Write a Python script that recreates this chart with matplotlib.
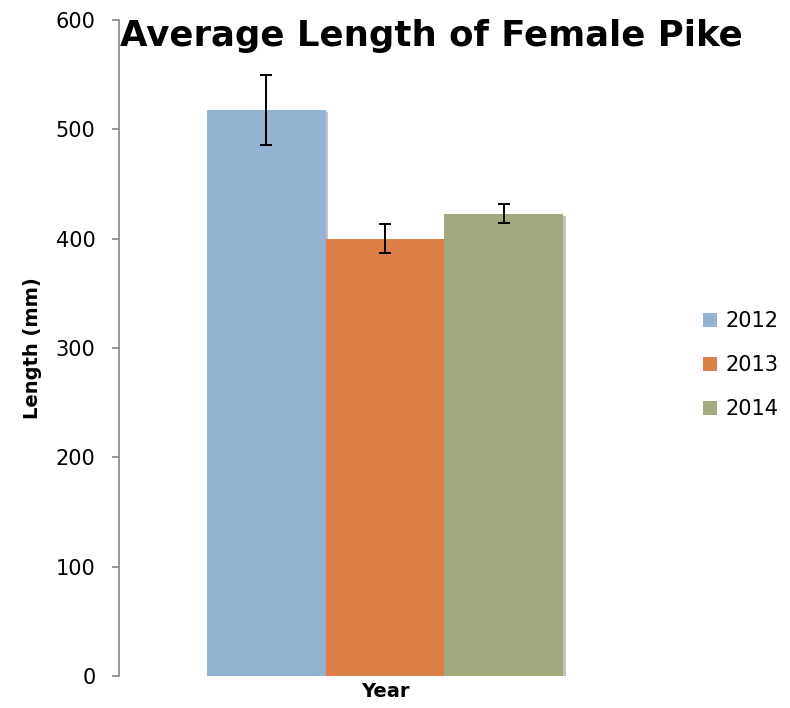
import matplotlib
matplotlib.use("Agg")
import matplotlib.pyplot as plt
import matplotlib.patheffects as pe
from matplotlib.patches import Patch

years = ["2012", "2013", "2014"]
means = [518, 400, 423]
errors = [32, 13, 9]
colors = ["#93B3D3", "#DD8047", "#A4AA7E"]
yticks = [0, 100, 200, 300, 400, 500, 600]

plt.rcParams['font.family'] = ['DejaVu Sans']

fig = plt.figure(figsize=(7.9, 7.08), dpi=100)
ax = fig.add_axes([119/790, 1-676/708, (651-119)/790, (676-20)/708])

xpos = [-1, 0, 1]
for x, m, e, c in zip(xpos, means, errors, colors):
    ax.bar(x, m, width=1.0, color=c, zorder=2,
           path_effects=[pe.SimplePatchShadow(offset=(2, -2), shadow_rgbFace='#888888', alpha=0.5), pe.Normal()])
    ax.errorbar(x, m, yerr=e, fmt='none', ecolor='black', elinewidth=1.4,
                capsize=4.5, capthick=1.4, zorder=3)

ax.set_xlim(-2.24, 2.24)
ax.set_ylim(0, 600)
ax.set_yticks(yticks)
ax.set_yticklabels([str(t) for t in yticks], fontsize=15)
ax.set_xticks([])
for s in ['top', 'right', 'bottom']:
    ax.spines[s].set_visible(False)
ax.spines['left'].set_color('#868686')
ax.spines['left'].set_linewidth(1.2)
ax.tick_params(axis='y', length=5, width=1.2, color='#868686', pad=12)

ax.set_ylabel("Length (mm)", fontsize=14, fontweight='bold', labelpad=10)
ax.set_xlabel("Year", fontsize=14, fontweight='bold', labelpad=4)

fig.text(431/790, 1-36/708, "Average Length of Female Pike", fontsize=25.6,
         fontweight='bold', ha='center', va='center')

handles = [Patch(facecolor=c, edgecolor='none') for c in colors]
leg = fig.legend(handles, years, loc='center left', bbox_to_anchor=(693/790, 1-365/708),
                 bbox_transform=fig.transFigure, frameon=False, borderpad=0,
                 fontsize=15, handlelength=0.65, handleheight=0.65, labelspacing=1.15,
                 handletextpad=0.4)

fig.savefig("out.png", dpi=100)
